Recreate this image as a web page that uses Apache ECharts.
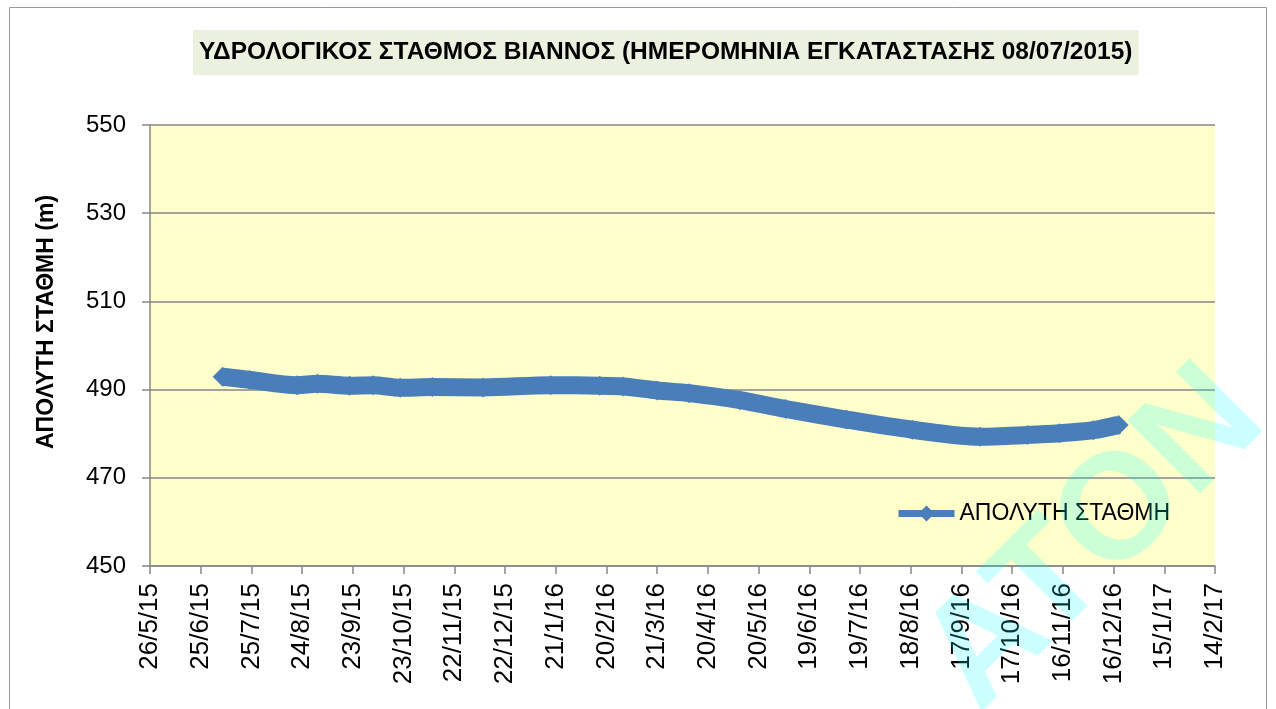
<!DOCTYPE html>
<html>
<head>
<meta charset="utf-8">
<script src="https://cdn.jsdelivr.net/npm/echarts@6/dist/echarts.min.js"></script>
<style>html,body{margin:0;padding:0;background:#fff;}#c{width:1276px;height:709px;}</style>
</head>
<body>
<div id="c"></div>
<script>
// ---- data ----
const titleText = 'ΥΔΡΟΛΟΓΙΚΟΣ ΣΤΑΘΜΟΣ ΒΙΑΝΝΟΣ (ΗΜΕΡΟΜΗΝΙΑ ΕΓΚΑΤΑΣΤΑΣΗΣ 08/07/2015)';
const yAxisTitle = 'ΑΠΟΛΥΤΗ ΣΤΑΘΜΗ (m)';
const seriesName = 'ΑΠΟΛΥΤΗ ΣΤΑΘΜΗ';
const axisStartDate = '2015-05-26';
const axisDays = 630;
const tickStepDays = 30;
const yTicks = [450, 470, 490, 510, 530, 550];
const dates = ['2015-07-08','2015-07-24','2015-08-21','2015-09-02','2015-09-21','2015-10-05','2015-10-21','2015-11-09','2015-12-09','2016-01-18','2016-02-16','2016-03-01','2016-03-21','2016-04-09','2016-05-09','2016-06-05','2016-07-11','2016-08-19','2016-09-28','2016-10-26','2016-11-14','2016-12-04','2016-12-19'];
const levels = [492.9,492.2,491.0,491.3,490.9,491.0,490.4,490.6,490.5,491.0,490.9,490.7,489.8,489.2,487.6,485.6,483.2,480.9,479.3,479.7,480.1,480.8,482.0];
const watermark = 'ATON';

// ---- helpers ----
const DAY = 86400000;
function parseUTC(s){const p=s.split('-').map(Number);return Date.UTC(p[0],p[1]-1,p[2]);}
const t0 = parseUTC(axisStartDate);
function dayOffset(s){return Math.round((parseUTC(s)-t0)/DAY);}
function fmtDay(d){const dt=new Date(t0+d*DAY);return dt.getUTCDate()+'/'+(dt.getUTCMonth()+1)+'/'+String(dt.getUTCFullYear()).slice(2);}
const seriesData = dates.map((d,i)=>[dayOffset(d), levels[i]]);

const FONT = "'Liberation Sans', Arial, sans-serif";
const GRAY = '#868686';
const chart = echarts.init(document.getElementById('c'), null, {renderer:'canvas'});
chart.setOption({
  animation:false,
  backgroundColor:'#ffffff',
  title:{
    text:titleText, left:193, top:30,
    padding:[10,6,10,6],
    backgroundColor:'#EBF1DE',
    textStyle:{fontFamily:FONT,fontSize:24.5,fontWeight:'bold',color:'#000'}
  },
  grid:{left:150,right:61,top:125,bottom:143,show:true,backgroundColor:'#FFFFCC',borderWidth:0},
  legend:{
    data:[seriesName], left:890, top:497,
    itemWidth:56, itemHeight:20, itemGap:4,
    lineStyle:{width:7},
    textStyle:{fontFamily:FONT,fontSize:23,color:'#000'}
  },
  xAxis:{
    type:'value', min:0, max:axisDays, interval:tickStepDays,
    axisLine:{lineStyle:{color:GRAY,width:1.5}},
    axisTick:{show:true,length:8,lineStyle:{color:GRAY,width:1.5}},
    splitLine:{show:false},
    axisLabel:{rotate:90,margin:17,fontFamily:FONT,fontSize:26,color:'#000',formatter:v=>fmtDay(v),showMaxLabel:true,showMinLabel:true}
  },
  yAxis:{
    type:'value', min:yTicks[0], max:yTicks[yTicks.length-1], interval:20,
    axisLine:{show:true,lineStyle:{color:GRAY,width:1.5}},
    axisTick:{show:true,length:8,lineStyle:{color:GRAY,width:1.5}},
    splitLine:{show:true,lineStyle:{color:GRAY,width:1.5}},
    axisLabel:{margin:24,fontFamily:FONT,fontSize:24,color:'#000'}
  },
  series:[{
    name:seriesName, type:'line', data:seriesData,
    smooth:0.3,
    symbol:'diamond', symbolSize:20, showSymbol:true,
    lineStyle:{color:'#4A7EBB',width:18,join:'round'},
    itemStyle:{color:'#4A7EBB',borderWidth:0}
  }],
  graphic:[
    {type:'rect',shape:{x:9.5,y:7.5,width:1257,height:720},style:{fill:'none',stroke:'#9a9a9a',lineWidth:1},silent:true,z:-1},
    {type:'text',x:47,y:322,rotation:Math.PI/2,style:{text:yAxisTitle,fontFamily:FONT,fontSize:23,fontWeight:'bold',fill:'#000',align:'center',verticalAlign:'middle'}},
    {type:'text',x:1095,y:540,rotation:Math.PI/4,z:100,silent:true,style:{text:watermark,fontFamily:FONT,fontSize:150,fontWeight:'bold',fill:'rgba(0,255,255,0.2)',align:'center',verticalAlign:'middle'}}
  ]
});
</script>
</body>
</html>
